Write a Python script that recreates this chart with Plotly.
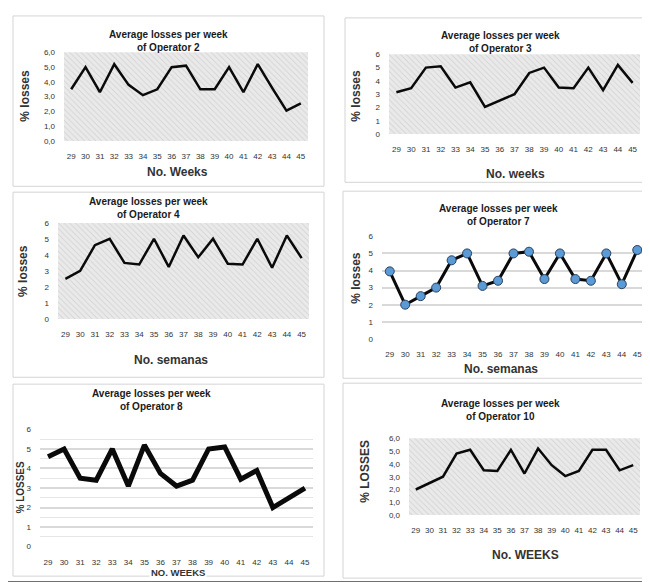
import plotly.graph_objects as go

W, H = 650, 582

weeks = [29, 30, 31, 32, 33, 34, 35, 36, 37, 38, 39, 40, 41, 42, 43, 44, 45]
op2 = [3.5, 5.0, 3.3, 5.2, 3.8, 3.1, 3.5, 5.0, 5.1, 3.5, 3.5, 5.0, 3.3, 5.2, 3.6, 2.05, 2.55]
op3 = [3.15, 3.45, 5.0, 5.1, 3.5, 3.9, 2.05, 2.5, 3.0, 4.6, 5.0, 3.5, 3.45, 5.0, 3.3, 5.2, 3.85]
op4 = [2.5, 3.0, 4.6, 5.0, 3.5, 3.4, 5.0, 3.25, 5.2, 3.85, 5.0, 3.45, 3.4, 5.0, 3.2, 5.2, 3.8]
op7 = [3.95, 2.0, 2.5, 3.0, 4.6, 5.0, 3.1, 3.4, 5.0, 5.1, 3.5, 5.0, 3.5, 3.4, 5.0, 3.2, 5.2]
op8 = [4.6, 5.0, 3.5, 3.4, 5.0, 3.1, 5.2, 3.75, 3.1, 3.4, 5.0, 5.1, 3.45, 3.9, 2.0, 2.5, 3.0]
op10 = [2.0, 2.5, 3.0, 4.8, 5.1, 3.5, 3.45, 5.1, 3.25, 5.2, 3.9, 3.05, 3.45, 5.1, 5.1, 3.5, 3.9]
y_ticks = [0, 1, 2, 3, 4, 5, 6]
y_labels_comma = ["0,0", "1,0", "2,0", "3,0", "4,0", "5,0", "6,0"]
y_labels_int = ["0", "1", "2", "3", "4", "5", "6"]
y_max = 6

FONT = "Liberation Sans, Arial, sans-serif"

panels = [
    dict(vals=op2, title="Average losses per week<br>of Operator 2", xt="No. Weeks", yt="% losses",
         box=(56, 41, 300, 131), frame=(5, 4, 316, 177), hatch=True, ylab=y_labels_comma,
         tpos=(160, 29), xtpos=(169, 163), ytpos=(17, 85), lw=2.5, marker=False, xts=12, yts=12),
    dict(vals=op3, title="Average losses per week<br>of Operator 3", xt="No. weeks", yt="% losses",
         box=(381, 43, 632, 124), frame=(337, 6, 642, 173), hatch=True, ylab=y_labels_int,
         tpos=(492, 30.5), xtpos=(507, 165), ytpos=(348, 85), lw=2.5, marker=False, xts=12, yts=12),
    dict(vals=op4, title="Average losses per week<br>of Operator 4", xt="No. semanas", yt="% losses",
         box=(50, 214, 301, 312), frame=(5, 183, 316, 371), hatch=True, ylab=y_labels_int,
         tpos=(140, 199), xtpos=(163, 353), ytpos=(15, 263), lw=2.5, marker=False, xts=12, yts=12),
    dict(vals=op7, title="Average losses per week<br>of Operator 7", xt="No. semanas", yt="% losses",
         box=(374, 227, 637, 332), frame=(335, 182, 642, 372), hatch=False, ylab=y_labels_int,
         tpos=(490, 206.5), xtpos=(493, 363), ytpos=(348, 270), lw=3, marker=True, xts=12, yts=12),
    dict(vals=op8, title="Average losses per week<br>of Operator 8", xt="NO. WEEKS", yt="% LOSSES",
         box=(32, 423, 305, 543), frame=(5, 378, 316, 573), hatch=False, ylab=y_labels_int,
         tpos=(143, 394.5), xtpos=(170, 569), ytpos=(13, 483), lw=5, marker=False, xts=9.5, yts=10),
    dict(vals=op10, title="Average losses per week<br>of Operator 10", xt="No. WEEKS", yt="% LOSSES",
         box=(401, 433, 632, 511), frame=(335, 377, 642, 575), hatch=True, ylab=y_labels_comma,
         tpos=(492, 404), xtpos=(517, 552), ytpos=(357, 467), lw=2.5, marker=False, xts=12, yts=12),
]

fig = go.Figure()
shapes = []
annotations = []

def px(x):
    return x / W

def py(y):
    return 1 - y / H

for i, p in enumerate(panels):
    n = "" if i == 0 else str(i + 1)
    xa, ya = "x" + n, "y" + n
    l, t, r, b = p["box"]
    fl, ft, fr, fb = p["frame"]
    shapes.append(dict(type="rect", xref="paper", yref="paper", x0=px(fl), x1=px(fr), y0=py(fb), y1=py(ft),
                       line=dict(color="#d4d4d4", width=1), fillcolor="rgba(0,0,0,0)", layer="below"))
    if p["hatch"]:
        fig.add_trace(go.Bar(x=weeks, y=[y_max] * len(weeks), xaxis=xa, yaxis=ya, width=1,
                             marker=dict(color="#d0d0d0", line=dict(width=0),
                                         pattern=dict(shape="\\", bgcolor="#eaeaea", fgcolor="#c0c0c0",
                                                      size=4, solidity=0.25, fillmode="overlay")),
                             hoverinfo="skip", showlegend=False))
    mode = "lines+markers" if p["marker"] else "lines"
    fig.add_trace(go.Scatter(x=weeks, y=p["vals"], xaxis=xa, yaxis=ya, mode=mode,
                             line=dict(color="#0a0a0a", width=p["lw"]),
                             marker=dict(size=9, color="#5b9bd5", line=dict(color="#2a3f5f", width=1)),
                             showlegend=False))
    grid = not p["hatch"]
    fig.layout["xaxis" + n] = dict(domain=[px(l), px(r)], range=[28.5, 45.5], anchor=ya,
                                   tickvals=weeks, ticktext=[str(w) for w in weeks],
                                   tickfont=dict(family=FONT, size=8, color="#333333"),
                                   showgrid=False, zeroline=False, showline=False,
                                   ticks="", ticklabelstandoff=9, fixedrange=True)
    ydict = dict(domain=[py(b), py(t)], range=[0, 6.05] if grid else [0, 6], anchor=xa,
                 tickvals=y_ticks, ticktext=p["ylab"],
                 tickfont=dict(family=FONT, size=8, color="#333333"),
                 showgrid=grid, gridcolor="#d9d9d9", gridwidth=1.5,
                 zeroline=False, showline=False, ticks="", ticklabelstandoff=8, fixedrange=True)
    if i == 4:
        ydict["minor"] = dict(dtick=0.5, showgrid=True, gridcolor="#e6e6e6", gridwidth=1)
    fig.layout["yaxis" + n] = ydict
    annotations.append(dict(text="<b>" + p["title"] + "</b>", x=px(p["tpos"][0]), y=py(p["tpos"][1]),
                            xref="paper", yref="paper", showarrow=False, xanchor="center", yanchor="middle",
                            font=dict(family=FONT, size=10, color="#1a1a1a")))
    xa_ann = dict(text="<b>" + p["xt"] + "</b>", x=px(p["xtpos"][0]), y=py(p["xtpos"][1]),
                  xref="paper", yref="paper", showarrow=False, xanchor="center", yanchor="middle",
                  font=dict(family=FONT, size=p["xts"], color="#333333"))
    if i == 4:
        xa_ann.update(bgcolor="white", borderpad=1)
    annotations.append(xa_ann)
    annotations.append(dict(text="<b>" + p["yt"] + "</b>", x=px(p["ytpos"][0]), y=py(p["ytpos"][1]),
                            xref="paper", yref="paper", showarrow=False, xanchor="center", yanchor="middle",
                            textangle=-90, font=dict(family=FONT, size=p["yts"], color="#333333")))

shapes.append(dict(type="line", xref="paper", yref="paper", x0=0, x1=1, y0=py(579), y1=py(579),
                   line=dict(color="#707070", width=2)))

fig.update_layout(width=W, height=H, margin=dict(l=0, r=0, t=0, b=0),
                  paper_bgcolor="white", plot_bgcolor="white", bargap=0,
                  shapes=shapes, annotations=annotations, showlegend=False)

fig.write_html("out.html")
